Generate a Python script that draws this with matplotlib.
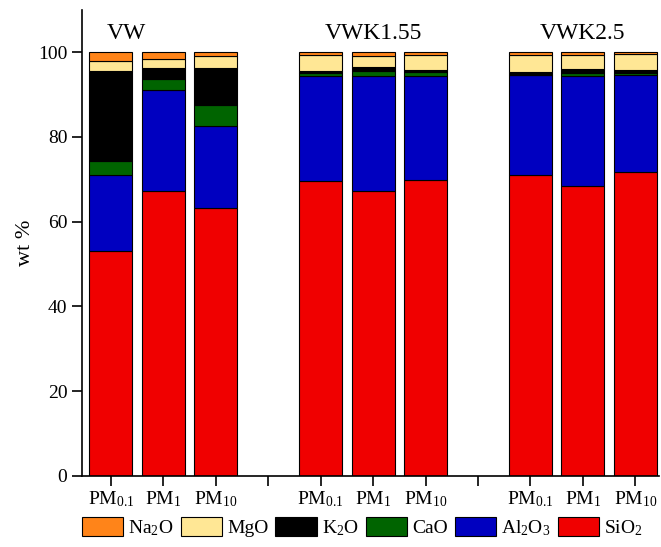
import matplotlib
matplotlib.use("Agg")
import matplotlib.pyplot as plt
import numpy as np

plt.rcParams['font.family'] = ['Liberation Serif', 'DejaVu Serif']
plt.rcParams['mathtext.fontset'] = 'custom'
plt.rcParams['mathtext.rm'] = 'Liberation Serif'
plt.rcParams['mathtext.it'] = 'Liberation Serif:italic'

groups = ["VW", "VWK1.55", "VWK2.5"]
sizes = ["PM$_{0.1}$", "PM$_1$", "PM$_{10}$"]

# values per bar (order: VW PM0.1, PM1, PM10, VWK1.55 ..., VWK2.5 ...)
SiO2  = [53.1, 67.2, 63.2, 69.6, 67.2, 69.8, 71.0, 68.4, 71.7]
Al2O3 = [17.9, 23.8, 19.3, 24.7, 27.1, 24.6, 23.6, 25.9, 22.9]
CaO   = [3.3, 2.6, 5.1, 0.8, 1.2, 0.9, 0.0, 0.9, 0.5]
K2O   = [21.3, 2.7, 8.7, 0.5, 1.0, 0.5, 0.8, 0.8, 0.7]
MgO   = [2.3, 2.2, 2.8, 3.7, 2.6, 3.6, 4.0, 3.4, 3.7]
Na2O  = [2.1, 1.5, 0.9, 0.7, 0.9, 0.6, 0.6, 0.6, 0.5]

stack = [SiO2, Al2O3, CaO, K2O, MgO, Na2O]
stack_names = ["SiO$_2$", "Al$_2$O$_3$", "CaO", "K$_2$O", "MgO", "Na$_2$O"]
stack_colors = ["#F00000", "#0000C0", "#006400", "#000000", "#FFE795", "#FF8419"]

positions = [0, 1, 2, 4, 5, 6, 8, 9, 10]
tick_pos = list(range(11))
tick_labels = []
for g in range(3):
    tick_labels += sizes
    if g < 2:
        tick_labels.append("")

fig = plt.figure(figsize=(6.61, 5.47), dpi=100)
ax = fig.add_axes([0.124, 0.13, 0.873, 0.852])

bottom = np.zeros(len(positions))
handles = {}
for vals, name, col in zip(stack, stack_names, stack_colors):
    b = ax.bar(positions, vals, bottom=bottom, width=0.82, color=col,
               edgecolor="black", linewidth=0.8, label=name)
    handles[name] = b
    bottom += np.array(vals)

ax.set_xlim(-0.55, 10.45)
ax.set_ylim(0, 110)
ax.set_yticks([0, 20, 40, 60, 80, 100])
ax.set_xticks(tick_pos)
ax.set_xticklabels(tick_labels)
ax.tick_params(axis='both', labelsize=14, direction='out', length=7, width=1.2)
ax.tick_params(axis='x', pad=3)
for s in ['top', 'right']:
    ax.spines[s].set_visible(False)
for s in ['left', 'bottom']:
    ax.spines[s].set_linewidth(1.2)
ax.set_ylabel("wt %", fontsize=16, labelpad=2)

for gx, gname in zip([1, 5, 9], groups):
    ax.text(gx - 0.7 if gname == "VW" else gx, 104.5, gname, fontsize=17,
            ha='center', va='center')

order = ["Na$_2$O", "MgO", "K$_2$O", "CaO", "Al$_2$O$_3$", "SiO$_2$"]
fig.legend([handles[n] for n in order], order, loc='center',
           bbox_to_anchor=(0.548, 0.036), ncol=6, frameon=False, fontsize=14,
           handlelength=2.15, handleheight=1.1, handletextpad=0.25,
           columnspacing=0.35, borderpad=0.1)

fig.savefig("out.png", dpi=100)
